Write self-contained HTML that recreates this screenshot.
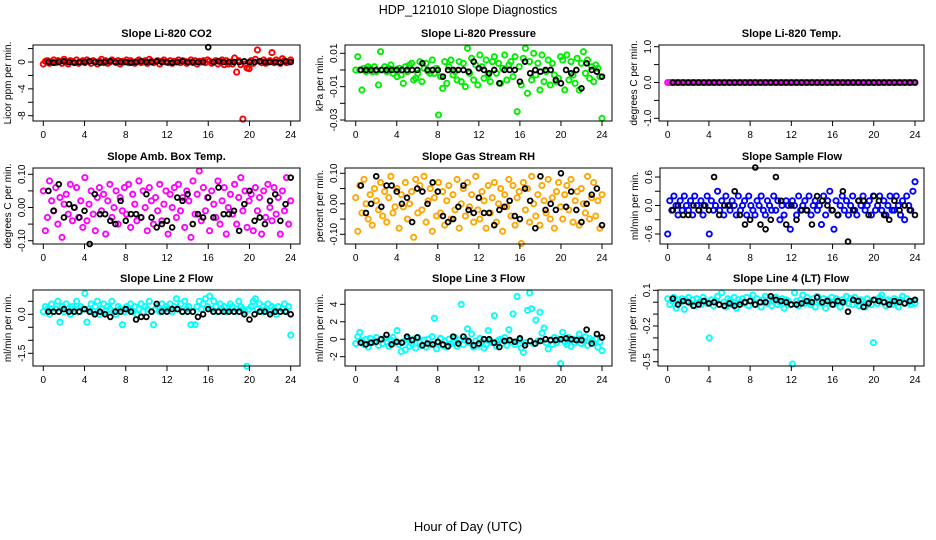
<!DOCTYPE html>
<html><head><meta charset="utf-8"><style>
html,body{margin:0;padding:0;background:#fff;}
svg{display:block;font-family:"Liberation Sans",sans-serif;}
</style></head><body>
<svg id="chart" width="936" height="540" viewBox="0 0 936 540" xmlns="http://www.w3.org/2000/svg">
<text x="468" y="14" text-anchor="middle" font-size="12.5">HDP_121010  Slope Diagnostics</text>
<text x="468" y="531" text-anchor="middle" font-size="13">Hour of Day (UTC)</text>
</svg>
<script>
// ---- data (colored series: 120 samples evenly over 0-24 h; black series: 48 samples at 0.5..24 h) ----
const hourTicks = [0,4,8,12,16,20,24];
const titles = ["Slope Li-820 CO2","Slope Li-820 Pressure","Slope Li-820 Temp.","Slope Amb. Box Temp.","Slope Gas Stream RH","Slope Sample Flow","Slope Line 2 Flow","Slope Line 3 Flow","Slope Line 4 (LT) Flow"];
const yTitles = ["Licor ppm per min.","kPa per min.","degrees C per min.","degrees C per min.","percent per min.","ml/min per min.","ml/min per min.","ml/min per min.","ml/min per min."];
const yTicks = [[2,0,-2,-4,-6,-8],[0.01,0,-0.01,-0.02,-0.03],[1,0.5,0,-0.5,-1],[0.1,0.05,0,-0.05,-0.1],[0.1,0.05,0,-0.05,-0.1],[0.6,0.3,0,-0.3,-0.6],[0.5,0,-0.5,-1,-1.5],[4,2,0,-2],[0.1,0,-0.1,-0.2,-0.3,-0.4,-0.5]];
const yTickLabels = [["","0","","-4","","-8"],["0.01","","-0.01","","-0.03"],["1.0","","0.0","","-1.0"],["0.10","","0.00","","-0.10"],["0.10","","0.00","","-0.10"],["0.6","","0.0","","-0.6"],["","0.0","","","-1.5"],["4","2","0","-2"],["0.1","","","-0.2","","","-0.5"]];
const valueUnits = [0.1,0.001,1,0.01,0.01,0.1,0.1,0.1,0.01];
const colors = ["#ff0000","#00ee00","#ff00ff","#ff00ff","#ffa500","#0000ff","#00ffff","#00ffff","#00ffff"];

const co2 = [-3,1,2,-2,0,3,-1,2,1,-2,4,0,-3,2,1,-1,3,-2,0,2, -1,3,1,-2,2,0,-3,1,4,-1,2,-2,0,3,1,-1,2,-3,1,0, 3,-1,2,0,-2,1,3,-1,0,2,-2,4,1,-1,0,2,-3,1,3,0, -1,2,-2,1,0,3,-1,2,1,-2,0,3,-1,2,-3,1,0,2,-1,3, 1,-2,0,2,-3,1,3,-4,2,-3,0,-3,6,-15,2,-4,-85,-3,-9,-10, 2,-2,4,18,1,-1,3,-2,0,2,14,-1,3,0,-2,5,2,-1,0,3];
const co2Ref = [0,-1,0,1,0,-1,0,0,1,0,-1,0,1,0,0,0,-1,0,1,0,0,1,0,0,-1,0,1,0,0,0,0,22,0,1,0,0,0,0,1,0,0,1,0,0,0,-1,1,0];
const press = [0,8,0,-12,1,-1,2,1,-1,2,-1,-9,11,0,2,-1,1,3,-2,0, -4,1,-3,-8,2,-1,3,4,-6,-5,-2,5,-7,1,4,-1,-2,6,-2,1, -27,-4,-11,5,-8,2,6,-3,-1,-6,5,-7,4,-10,13,-2,7,-6,3,-9, 9,2,-5,6,-3,-7,5,8,-2,4,-8,1,9,-6,3,5,-4,8,-25,2, -9,7,13,-14,5,-6,10,-3,4,-12,9,-7,-1,6,-9,4,-3,-7,-5,8, 6,-12,9,-6,5,-3,-8,7,-12,4,11,-2,6,-5,2,-7,3,1,-4,-29];
const pressRef = [0,0,0,0,0,0,0,0,0,0,0,0,4,0,0,0,-4,0,0,0,0,-1,5,1,0,-2,0,-8,0,0,0,-7,5,-2,0,-1,0,0,-6,-8,0,-2,0,-11,4,0,-1,-4];
const liTemp = new Array(120).fill(0);
const liTempRef = new Array(48).fill(0);
const boxTemp = [5,-7,-3,8,2,-1,6,-5,3,-9,1,4,-2,7,-4,0,6,-3,2,-6, 9,-4,1,5,-2,-7,3,6,-1,4,-8,2,7,-3,0,5,-5,3,-1,6, -2,7,-6,4,1,-4,8,-3,5,0,-7,6,2,-5,3,-1,7,-4,1,5, -8,4,0,6,-3,7,-1,3,-6,5,2,-9,8,-2,4,11,-4,6,-1,3, -7,5,1,-3,8,-5,2,6,-8,0,4,-2,7,-5,3,9,-1,5,-6,2, 4,-7,6,-1,3,-8,5,-3,7,0,-4,6,-2,3,-8,5,-1,9,-5,2];
const boxTempRef = [5,-1,7,-3,1,0,-3,-1,-11,4,-2,-2,-4,-5,2,-4,-2,-2,-3,4,-3,-6,-5,-4,-6,3,2,4,-5,-2,-3,3,-3,6,-2,-2,-1,-7,1,5,-4,-3,-5,2,4,-4,1,9];
const rh = [2,-9,6,-3,8,0,-5,3,-7,5,1,-2,7,-4,4,-6,2,9,-3,-1, 5,-8,3,-1,7,-5,0,4,-11,8,-3,6,-2,9,-6,1,5,-9,2,-4, 7,-3,4,-7,1,6,-5,3,-2,8,-8,0,5,-4,7,-1,3,-6,9,-2, -5,4,1,-8,6,-3,2,7,-6,0,5,-9,3,-1,8,-4,6,-7,2,4, -13,7,-2,5,-6,9,0,-4,3,-7,6,1,-3,8,-5,2,-8,4,7,-1, -5,3,6,-2,8,-6,1,4,-7,5,0,-3,9,-5,2,7,-4,1,-8,3];
const rhRef = [6,-3,0,9,-1,6,6,4,0,2,-6,5,4,0,7,4,-4,-6,-5,-1,6,-2,-3,2,-3,-3,-7,-2,-1,1,-4,-5,5,1,-8,9,-2,0,-2,10,-1,4,-2,-6,0,3,5,-7];
const sample = [-6,1,-1,2,0,-2,1,-1,2,0,-1,1,-2,2,0,-1,1,-2,0,2, -6,1,-1,0,3,-1,1,-2,2,0,-1,1,0,-2,2,-1,0,1,-2,2, 0,-1,-2,1,0,2,-1,-2,1,0,-1,2,-1,1,-3,0,-2,1,0,-5, 1,0,-2,2,-1,0,1,-1,2,-2,0,1,-1,0,-4,2,-2,1,3,-1, -5,1,-2,0,2,-1,1,-2,0,2,-1,-2,1,0,2,-1,0,1,-2,2, -1,0,2,-1,1,-2,0,2,-1,-1,2,0,-2,1,-3,2,0,-1,3,5];
const sampleRef = [-1,0,-2,-2,0,-1,0,-1,6,-2,0,0,3,-2,-4,-3,8,-4,-5,-3,6,1,-4,0,-3,-1,-1,-4,2,1,0,-1,-2,3,-7.6,-1,1,1,-2,2,1,-2,-3,1,-1,0,-1,-2];
const line2 = [1,3,2,0,4,1,2,5,-3,3,1,4,2,0,3,2,5,1,3,2, 8,-3,2,4,1,3,5,0,2,4,1,3,2,5,1,0,3,2,-4,1, 3,2,4,1,3,0,2,4,1,3,2,5,1,-4,2,3,1,4,2,3, 2,4,1,3,6,2,4,1,5,2,3,-4,1,-4,3,5,2,4,6,3, 7,2,5,3,1,4,2,3,1,2,4,3,1,2,5,3,2,1,-20,2, 3,5,6,2,4,1,3,2,4,1,3,2,0,3,1,2,4,1,3,-8];
const line2Ref = [1,1,1,2,1,1,1,2,1,0,1,0,-1,1,1,2,1,-2,-1,-1,1,4,1,1,2,2,1,1,1,-1,0,2,1,1,1,1,1,1,0,-2,0,1,1,0,1,1,1,0];
const line3 = [-5,3,8,-2,-6,0,-9,1,-4,-3,2,-7,0,-5,1,-3,-8,-1,2,-4, 10,-6,-14,-3,-12,1,-8,-5,0,-10,2,-4,-7,-1,-9,0,-6,3,24,-11, -4,1,-7,-2,-9,0,-5,-3,2,-8,-1,40,-6,0,12,-4,6,-9,-2,-7, 1,-3,-10,-6,10,-2,-4,27,-8,-1,0,-5,2,-7,11,-3,29,-6,49,-1, -10,-15,-4,33,53,35,-5,22,-2,31,7,13,-4,-11,-1,-6,2,-4,0,-28, 8,-3,-6,2,-8,0,-4,-1,6,-5,-2,3,-7,1,-2,-4,0,-9,-3,-13];
const line3Ref = [-4,-6,-4,-3,0,5,-6,-3,-4,3,-1,2,-7,-5,-6,-3,-6,-8,3,-5,3,-2,-7,-5,0,0,-4,-9,-2,-1,-3,1,-7,-2,-5,-2,0,-1,-1,0,1,0,-1,-1,11,-5,6,2];
const line4 = [3,-2,1,4,-5,2,0,3,-6,1,4,-1,2,-3,3,0,-2,4,1,-1, -30,2,-3,1,5,-2,8,0,-4,3,1,-2,4,-5,2,0,3,-1,4,-3, 1,6,-2,3,0,-4,2,5,-1,3,-3,1,4,-2,0,3,-5,2,1,-2, -52,8,1,-3,2,6,-1,4,0,-2,3,-4,5,1,-1,3,-5,2,0,4, -2,3,1,-4,2,0,5,-1,3,-2,4,0,-3,2,1,-4,3,0,-2,-34, 2,-1,4,6,0,-3,2,1,-2,3,0,-4,2,5,-1,3,0,-2,1,-1];
const line4Ref = [3,-2,1,0,-3,-2,1,-1,0,-2,-3,-1,-3,-2,0,1,-2,0,0,5,2,1,0,-2,-2,-1,1,0,4,0,1,-2,1,0,-8,2,1,-4,-1,2,1,0,-2,1,0,-1,1,2];

const coloredSeries = [co2,press,liTemp,boxTemp,rh,sample,line2,line3,line4];
const blackSeries = [co2Ref,pressRef,liTempRef,boxTempRef,rhRef,sampleRef,line2Ref,line3Ref,line4Ref];
const seriesNames = ["co2","pressure","li820-temp","amb-box-temp","gas-stream-rh","sample-flow","line2-flow","line3-flow","line4-flow"];

// ---- layout ----
const NS="http://www.w3.org/2000/svg";
const svg=document.getElementById('chart');
const geo=[
 {bx:[33,300],by:[45,121],hx:[43.3,290.7],yr:[0,62,-8,115.7]},
 {bx:[345,612],by:[45,121],hx:[355.7,602],yr:[0.01,53.3,-0.03,120]},
 {bx:[659,924],by:[45,121],hx:[667.7,915],yr:[1,46.7,-1,118.3]},
 {bx:[33,300],by:[168,244],hx:[43.3,290.7],yr:[0.1,174.3,-0.1,240.7]},
 {bx:[345,612],by:[168,244],hx:[355.7,602],yr:[0.1,173.3,-0.1,234.3]},
 {bx:[660,924],by:[168,244],hx:[667.7,915],yr:[0.6,177,-0.6,234]},
 {bx:[33,300],by:[290,366],hx:[43.3,290.7],yr:[0,314.3,-1.5,353.3]},
 {bx:[345,612],by:[290,366],hx:[355.7,602],yr:[4,304.3,-2,356.7]},
 {bx:[658,924],by:[290,366],hx:[667.7,915],yr:[0.1,290.3,-0.5,361.7]}
];
function mk(tag,attrs,parent){const e=document.createElementNS(NS,tag);for(const k in attrs)e.setAttribute(k,attrs[k]);(parent||svg).appendChild(e);return e;}

for(let p=0;p<9;p++){
  const g=geo[p];
  const xs=h=>g.hx[0]+(h/24)*(g.hx[1]-g.hx[0]);
  const ys=v=>g.yr[1]+(v-g.yr[0])/(g.yr[2]-g.yr[0])*(g.yr[3]-g.yr[1]);
  const grp=mk('g',{});
  
  
  const t=mk('text',{x:(g.bx[0]+g.bx[1])/2,y:g.by[0]-8,'text-anchor':'middle','font-size':'11','font-weight':'bold'},grp);
  t.textContent=titles[p];
  
  
  const cs=coloredSeries[p], n=cs.length;
  for(let i=0;i<n;i++){
    const c=mk('circle',{cx:xs(i*24/(n-1)),cy:ys(cs[i]*valueUnits[p]),r:2.6,fill:'none',stroke:colors[p],'stroke-width':1.9},grp);
    
    
  }
  const bs=blackSeries[p];
  for(let i=0;i<bs.length;i++){
    const c=mk('circle',{cx:xs(0.5*(i+1)),cy:ys(bs[i]*valueUnits[p]),r:2.4,fill:'none',stroke:'#000','stroke-width':1.8},grp);
    
    
  }
  const b=mk('rect',{x:g.bx[0],y:g.by[0],width:g.bx[1]-g.bx[0],height:g.by[1]-g.by[0],fill:'none',stroke:'#000','stroke-width':1},grp);
  
  
  const yb=g.by[1];
  const xa=mk('g',{},grp);
  
  
  mk('line',{x1:xs(0),x2:xs(24),y1:yb,y2:yb,stroke:'#000'},xa);
  hourTicks.forEach(h=>{
    mk('line',{x1:xs(h),x2:xs(h),y1:yb,y2:yb+5,stroke:'#000'},xa);
    const l=mk('text',{x:xs(h),y:yb+17,'text-anchor':'middle','font-size':'10'},xa);
    l.textContent=h;
    
    
  });
  const xl=g.bx[0];
  const ya=mk('g',{},grp);
  
  
  const tk=yTicks[p];
  mk('line',{x1:xl,x2:xl,y1:ys(tk[0]),y2:ys(tk[tk.length-1]),stroke:'#000'},ya);
  tk.forEach((v,i)=>{
    mk('line',{x1:xl-5,x2:xl,y1:ys(v),y2:ys(v),stroke:'#000'},ya);
    if(yTickLabels[p][i]!==""){
      const l=mk('text',{x:0,y:0,'text-anchor':'middle','font-size':'10',transform:`translate(${xl-8},${ys(v)}) rotate(-90)`},ya);
      l.textContent=yTickLabels[p][i];
      
      
    }
  });
  const yt=mk('text',{x:0,y:0,'text-anchor':'middle','font-size':'10',transform:`translate(${xl-22},${(g.by[0]+g.by[1])/2}) rotate(-90)`},ya);
  yt.textContent=yTitles[p];
  
  
}
</script>
</body></html>
